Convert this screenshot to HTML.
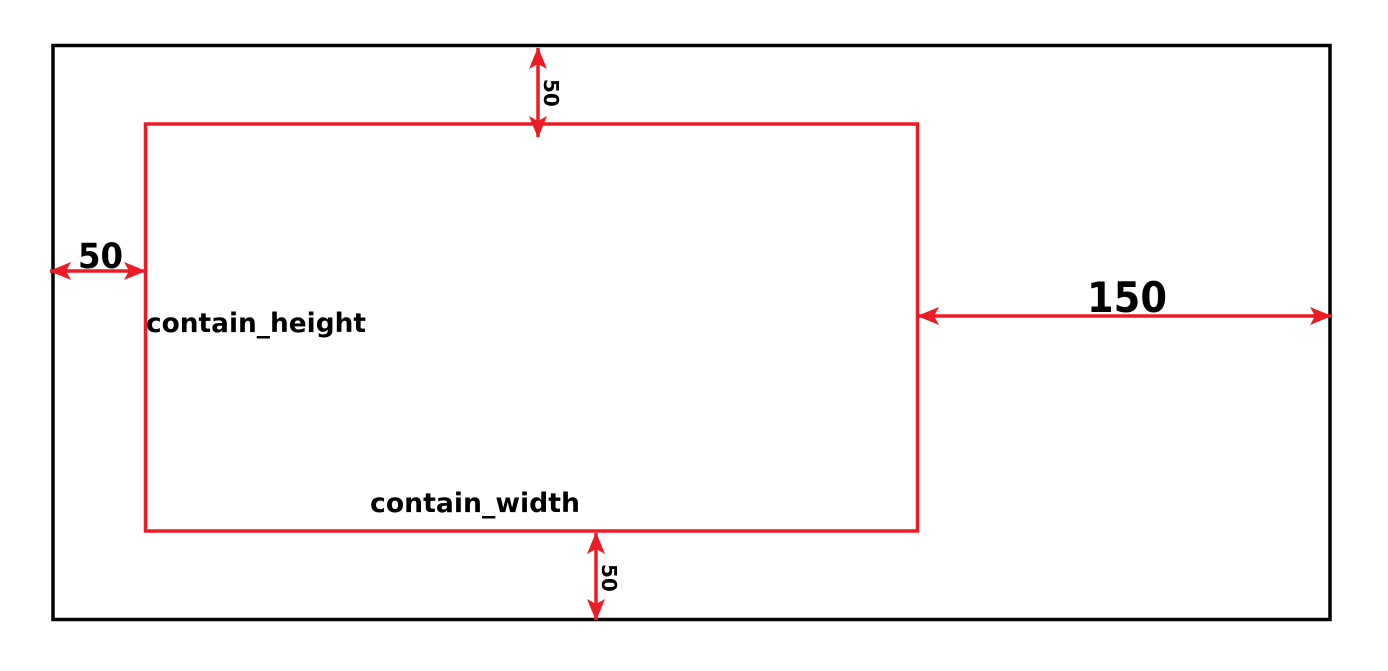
<!DOCTYPE html>
<html><head><meta charset="utf-8"><style>
html,body{margin:0;padding:0;background:#fff;}
svg{display:block;}
text{font-family:"DejaVu Sans","Liberation Sans",sans-serif;font-weight:bold;fill:#000;}
</style></head><body>
<svg width="1388" height="671" viewBox="0 0 1388 671">
<defs>
<marker id="ah" viewBox="0 0 22 18" refX="21" refY="9" markerWidth="22" markerHeight="18" markerUnits="userSpaceOnUse" orient="auto-start-reverse">
<path d="M0,0 L22,9 L0,18 L5,9 Z" fill="#ed1c24"/>
</marker>
</defs>
<rect x="53" y="45.5" width="1277" height="574" fill="none" stroke="#000" stroke-width="3.5"/>
<rect x="145.5" y="124" width="772" height="407" fill="none" stroke="#ed1c24" stroke-width="3.5"/>
<line x1="538" y1="48" x2="538" y2="137" stroke="#ed1c24" stroke-width="3.5" marker-start="url(#ah)" marker-end="url(#ah)"/>
<text x="0" y="0" font-size="20" transform="translate(544,79) rotate(90)">50</text>
<line x1="50" y1="271" x2="145" y2="271" stroke="#ed1c24" stroke-width="3.5" marker-start="url(#ah)" marker-end="url(#ah)"/>
<text x="78" y="268" font-size="35" textLength="45" lengthAdjust="spacingAndGlyphs">50</text>
<line x1="918" y1="316" x2="1331" y2="316" stroke="#ed1c24" stroke-width="3.5" marker-start="url(#ah)" marker-end="url(#ah)"/>
<text x="1087" y="312" font-size="42" textLength="80" lengthAdjust="spacingAndGlyphs">150</text>
<line x1="596" y1="533" x2="596" y2="620" stroke="#ed1c24" stroke-width="3.5" marker-start="url(#ah)" marker-end="url(#ah)"/>
<text x="0" y="0" font-size="20" transform="translate(602,564) rotate(90)">50</text>
<text x="146" y="332" font-size="27" textLength="220" lengthAdjust="spacingAndGlyphs">contain_height</text>
<text x="370" y="512" font-size="27" textLength="210" lengthAdjust="spacingAndGlyphs">contain_width</text>
</svg>
</body></html>
